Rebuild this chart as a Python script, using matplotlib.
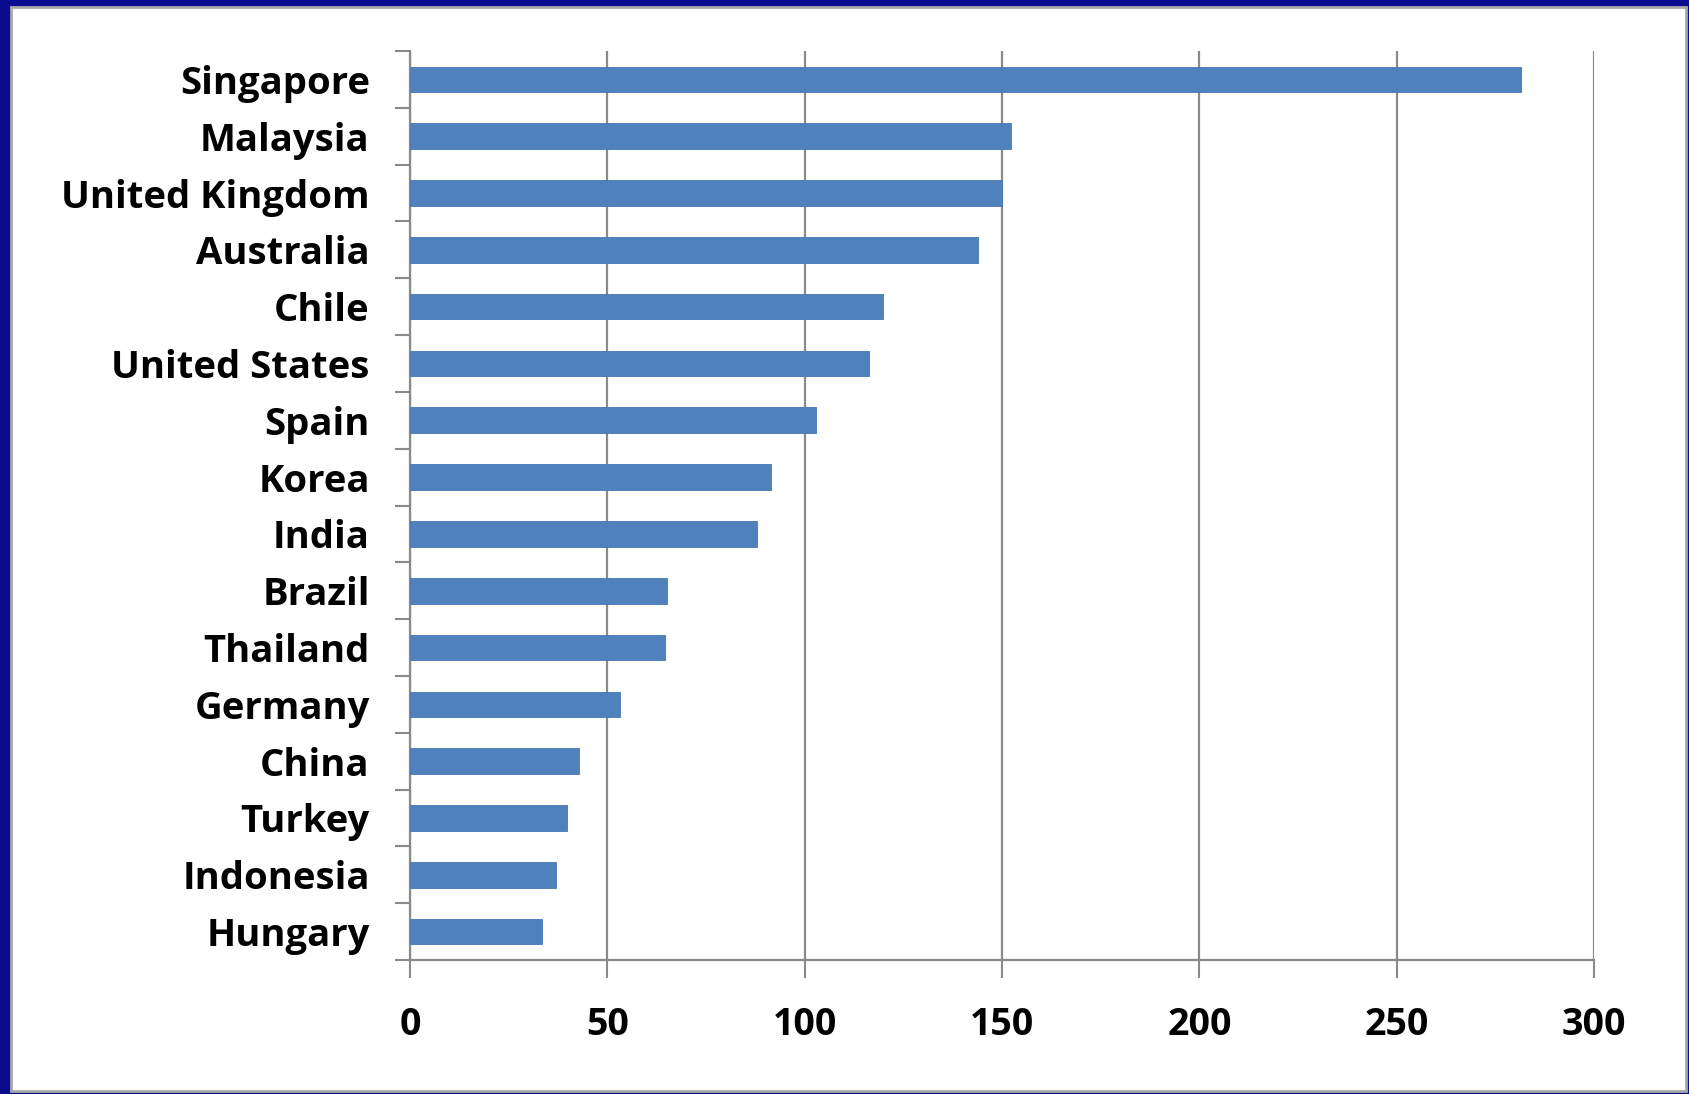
import numpy as np
import matplotlib
matplotlib.use("Agg")
import matplotlib.pyplot as plt
from matplotlib.patches import Rectangle

# data
countries = ["Singapore", "Malaysia", "United Kingdom", "Australia", "Chile",
             "United States", "Spain", "Korea", "India", "Brazil", "Thailand",
             "Germany", "China", "Turkey", "Indonesia", "Hungary"]
values = [281.5, 152.3, 149.9, 144.0, 119.9, 116.3, 102.9, 91.5, 88.0,
          65.1, 64.5, 53.1, 42.7, 39.8, 37.0, 33.4]
xticks = [0, 50, 100, 150, 200, 250, 300]

W, H = 1690, 1094
navy = "#0b0b8f"
grid_c = "#8a8a8a"
bar_c = "#4f81bd"

plt.rcParams["font.family"] = ["Open Sans", "DejaVu Sans"]

fig = plt.figure(figsize=(W / 100, H / 100), dpi=100)
fig.patch.set_facecolor(navy)

# white slide panel with a thin grey frame
panel = Rectangle((11 / W, 3 / H), (1686 - 11) / W, (1087 - 3) / H,
                  transform=fig.transFigure, facecolor="white",
                  edgecolor="#a8a8a8", linewidth=2, zorder=-5)
fig.patches.append(panel)

ax = fig.add_axes([410 / W, (H - 960) / H, (1594 - 410) / W, (960 - 51) / H])
ax.set_facecolor("none")

y = np.arange(len(countries))
ax.barh(y, values, height=0.45, color=bar_c, edgecolor="#4677b3",
        linewidth=0.6, zorder=3)

ax.set_xlim(0, 300)
ax.set_ylim(len(countries) - 0.5, -0.5)

ax.set_xticks(xticks)
ax.set_xticklabels([str(t) for t in xticks], fontsize=27, fontweight="bold")
ax.tick_params(axis="x", length=13, width=1.5, color=grid_c, pad=20,
               direction="out")
ax.grid(axis="x", color=grid_c, linewidth=1.6, zorder=0)
ax.set_axisbelow(True)

# category ticks sit between the bars, labels at bar centres
ax.set_yticks(np.arange(-0.5, len(countries), 1))
ax.set_yticklabels([])
ax.set_yticks(y, minor=True)
ax.set_yticklabels(countries, minor=True, fontsize=27.5, fontweight="bold")
ax.tick_params(axis="y", which="major", length=11, width=1.5, color=grid_c,
               direction="out")
ax.tick_params(axis="y", which="minor", length=0, pad=29)

for s in ["top", "right"]:
    ax.spines[s].set_visible(False)
for s in ["left", "bottom"]:
    ax.spines[s].set_color(grid_c)
    ax.spines[s].set_linewidth(1.6)

fig.savefig("out.png", dpi=100, facecolor=navy)
